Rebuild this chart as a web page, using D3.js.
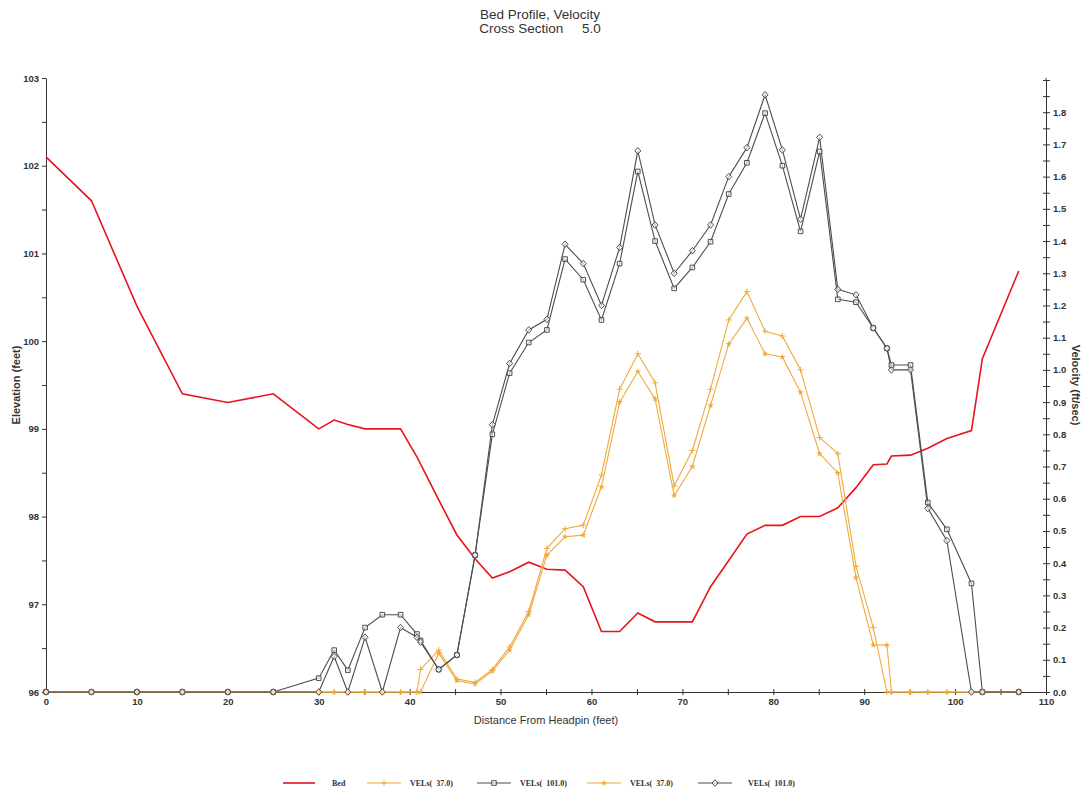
<!DOCTYPE html>
<html>
<head>
<meta charset="utf-8">
<script src="https://cdn.jsdelivr.net/npm/d3@7"></script>
<style>
  html, body { margin: 0; padding: 0; background: #fff; }
  svg { display: block; }
</style>
</head>
<body>
<svg id="chart" width="1083" height="790"></svg>
<script>
// Bed profile (elevation, feet) along the cross section
const bedX = [0, 5, 10, 15, 20, 25, 30, 31.7, 33.2, 35.1, 37, 39, 40.8, 43.2, 45.2, 47.2, 49.1, 51, 53.1, 55.1, 57.1, 59.1, 61.1, 63.1, 65.1, 67, 69.1, 71.1, 73.1, 75.1, 77.1, 79.1, 81, 83, 85.1, 87.1, 89.1, 91, 92.5, 93, 95.1, 97, 99.1, 101.8, 103, 107];
const bedElev = [102.1, 101.6, 100.4, 99.4, 99.3, 99.4, 99.0, 99.1, 99.05, 99.0, 99.0, 99.0, 98.68, 98.19, 97.79, 97.52, 97.3, 97.37, 97.48, 97.4, 97.39, 97.2, 96.69, 96.69, 96.9, 96.8, 96.8, 96.8, 97.2, 97.5, 97.8, 97.9, 97.9, 98.0, 98.0, 98.1, 98.33, 98.59, 98.6, 98.69, 98.7, 98.78, 98.89, 98.98, 99.8, 100.8];

// Velocity stations (feet from headpin)
const stations = [0, 5, 10, 15, 20, 25, 30, 31.7, 33.2, 35.1, 37, 39, 40.8, 41.2, 43.2, 45.2, 47.2, 49.1, 51, 53.1, 55.1, 57.1, 59.1, 61.1, 63.1, 65.1, 67, 69.1, 71.1, 73.1, 75.1, 77.1, 79.1, 81, 83, 85.1, 87.1, 89.1, 91, 92.5, 93, 95.1, 97, 99.1, 101.8, 103, 107];

// Velocities (ft/sec)
const vel37a = [0, 0, 0, 0, 0, 0, 0, 0, 0, 0, 0, 0, 0, 0.07, 0.13, 0.04, 0.03, 0.07, 0.14, 0.25, 0.446, 0.507, 0.518, 0.674, 0.94, 1.05, 0.96, 0.64, 0.75, 0.94, 1.155, 1.243, 1.12, 1.105, 1.0, 0.79, 0.74, 0.39, 0.2, 0, 0, 0, 0, 0, 0, 0, 0];
const vel101a = [0, 0, 0, 0, 0, 0, 0.043, 0.13, 0.068, 0.2, 0.24, 0.24, 0.18, 0.16, 0.07, 0.115, 0.425, 0.8, 0.99, 1.085, 1.124, 1.344, 1.28, 1.155, 1.33, 1.616, 1.4, 1.253, 1.318, 1.398, 1.546, 1.643, 1.797, 1.634, 1.43, 1.678, 1.219, 1.21, 1.13, 1.067, 1.015, 1.015, 0.588, 0.505, 0.337, 0, 0];
const vel37b = [0, 0, 0, 0, 0, 0, 0, 0, 0, 0, 0, 0, 0, 0, 0.12, 0.035, 0.025, 0.065, 0.13, 0.24, 0.425, 0.482, 0.487, 0.637, 0.9, 0.995, 0.91, 0.61, 0.7, 0.89, 1.08, 1.16, 1.05, 1.04, 0.93, 0.74, 0.68, 0.355, 0.146, 0.146, 0, 0, 0, 0, 0, 0, 0];
const vel101b = [0, 0, 0, 0, 0, 0, 0, 0.11, 0, 0.17, 0, 0.2, 0.17, 0.155, 0.07, 0.115, 0.425, 0.83, 1.02, 1.124, 1.157, 1.39, 1.33, 1.2, 1.38, 1.68, 1.45, 1.3, 1.37, 1.45, 1.6, 1.69, 1.854, 1.683, 1.468, 1.722, 1.25, 1.233, 1.13, 1.067, 1.0, 1.0, 0.57, 0.47, 0, 0, 0];

// Axis ticks
const xTicks = [0, 10, 20, 30, 40, 50, 60, 70, 80, 90, 100, 110];
const elevTicks = [96, 97, 98, 99, 100, 101, 102, 103];
const velTicks = [0.0, 0.1, 0.2, 0.3, 0.4, 0.5, 0.6, 0.7, 0.8, 0.9, 1.0, 1.1, 1.2, 1.3, 1.4, 1.5, 1.6, 1.7, 1.8];

const legendNames = ["Bed", "VELs(  37.0)", "VELs(  101.0)", "VELs(  37.0)", "VELs(  101.0)"];

(function drawChart() {
  const svg = d3.select("#chart");
  const pL = 46, pR = 1046, pT = 78, pB = 692;
  const sans = "Arial, 'Liberation Sans', sans-serif";
  const serif = "'Liberation Serif', 'Times New Roman', serif";

  const x = d3.scaleLinear().domain([0, 110]).range([pL, pR]);
  const yL = d3.scaleLinear().domain([96, 103]).range([pB, pT]);
  const yR = d3.scaleLinear().domain([0, 1.9]).range([pB, 80]);

  const axisColor = "#333";
  const orange = "#f2a93b";
  const gray = "#4d4d4d";
  const red = "#e8141c";

  // Title
  svg.append("text").attr("x", 540).attr("y", 19).attr("text-anchor", "middle")
    .style("font-family", sans).style("font-size", "13.5px").attr("fill", "#333").text("Bed Profile, Velocity");
  svg.append("text").attr("x", 540).attr("y", 33).attr("text-anchor", "middle")
    .style("font-family", sans).style("font-size", "13.5px").attr("fill", "#333")
    .style("white-space", "pre").text("Cross Section     5.0");

  function styleAxis(g) {
    g.selectAll("path, line").attr("stroke", axisColor).attr("stroke-width", 1);
    g.selectAll("text").style("font-size", "9.5px").style("font-weight", "bold").attr("fill", "#333")
      .style("font-family", sans);
  }

  // Left elevation axis: labelled ticks plus half-foot minor ticks
  svg.append("g").attr("transform", `translate(${pL},0)`)
    .call(d3.axisLeft(yL).tickValues(d3.range(96, 103.01, 0.5)).tickSize(4).tickSizeOuter(0)
      .tickFormat(d => elevTicks.includes(d) ? d3.format("d")(d) : ""))
    .call(styleAxis);

  // Right velocity axis
  svg.append("g").attr("transform", `translate(${pR},0)`)
    .call(d3.axisRight(yR).tickValues(d3.range(0, 1.901, 0.05)).tickSize(4).tickSizeOuter(0)
      .tickFormat(d => velTicks.some(v => Math.abs(v - d) < 1e-6) ? d3.format(".1f")(d) : ""))
    .call(styleAxis)
    .call(g => g.selectAll(".tick line").attr("x1", -3));
  svg.append("line").attr("x1", pR).attr("x2", pR).attr("y1", pT).attr("y2", 80)
    .attr("stroke", axisColor);

  // Bottom distance axis
  svg.append("g").attr("transform", `translate(0,${pB})`)
    .call(d3.axisBottom(x).tickValues(d3.range(0, 110.01, 5)).tickSize(3).tickSizeOuter(0)
      .tickFormat(d => xTicks.includes(d) ? d : ""))
    .call(styleAxis)
    .call(g => g.selectAll(".tick line").attr("y1", -3));

  // Axis titles
  svg.append("text").attr("transform", "translate(20,385) rotate(-90)").attr("text-anchor", "middle")
    .style("font-family", sans).style("font-size", "11px").style("font-weight", "bold")
    .attr("fill", "#333").text("Elevation (feet)");
  svg.append("text").attr("transform", "translate(1072,385) rotate(90)").attr("text-anchor", "middle")
    .style("font-family", sans).style("font-size", "11px").style("font-weight", "bold")
    .attr("fill", "#333").text("Velocity (ft/sec)");
  svg.append("text").attr("x", 546).attr("y", 724).attr("text-anchor", "middle")
    .style("font-family", sans).style("font-size", "11px").attr("fill", "#333")
    .text("Distance From Headpin (feet)");

  const bedLine = d3.line().x(d => x(d[0])).y(d => yL(d[1]));
  const velLine = d3.line().x(d => x(d[0])).y(d => yR(d[1]));

  svg.append("path").datum(d3.zip(bedX, bedElev)).attr("d", bedLine)
    .attr("fill", "none").attr("stroke", red).attr("stroke-width", 1.6);

  const velSeries = [
    { vals: vel37a, color: orange, marker: "plus" },
    { vals: vel101a, color: gray, marker: "square" },
    { vals: vel37b, color: orange, marker: "star" },
    { vals: vel101b, color: gray, marker: "diamond" }
  ];

  const starPath = d3.symbol(d3.symbolStar, 14);

  function drawMarker(g, type, color) {
    if (type === "plus") {
      g.append("path").attr("d", "M-3,0H3M0,-3V3").attr("fill", "none")
        .attr("stroke", color).attr("stroke-width", 1);
    } else if (type === "star") {
      g.append("path").attr("d", starPath()).attr("fill", color);
    } else if (type === "square") {
      g.append("path").attr("d", "M-2.3,-2.3H2.3V2.3H-2.3Z").attr("fill", "#fff").attr("fill-opacity", 0.6)
        .attr("stroke", color).attr("stroke-width", 1);
    } else {
      g.append("path").attr("d", "M0,-3.3L3,0L0,3.3L-3,0Z").attr("fill", "#fff").attr("fill-opacity", 0.6)
        .attr("stroke", color).attr("stroke-width", 1);
    }
  }

  velSeries.forEach(s => {
    svg.append("path").datum(d3.zip(stations, s.vals)).attr("d", velLine)
      .attr("fill", "none").attr("stroke", s.color).attr("stroke-width", 1.1);
  });
  velSeries.forEach(s => {
    d3.zip(stations, s.vals).forEach(p => {
      const g = svg.append("g").attr("transform", `translate(${x(p[0])},${yR(p[1])})`);
      drawMarker(g, s.marker, s.color);
    });
  });

  // Legend
  const legendItems = [
    { name: legendNames[0], color: red, marker: null, lx: 283, tx: 332 },
    { name: legendNames[1], color: orange, marker: "plus", lx: 367, tx: 410 },
    { name: legendNames[2], color: gray, marker: "square", lx: 477, tx: 520 },
    { name: legendNames[3], color: orange, marker: "star", lx: 587, tx: 630 },
    { name: legendNames[4], color: gray, marker: "diamond", lx: 698, tx: 748 }
  ];
  const ly = 783;
  legendItems.forEach(it => {
    const len = it.marker ? 34 : 32;
    svg.append("line").attr("x1", it.lx).attr("x2", it.lx + len).attr("y1", ly).attr("y2", ly)
      .attr("stroke", it.color).attr("stroke-width", it.marker ? 1.1 : 1.6);
    if (it.marker) {
      const g = svg.append("g").attr("transform", `translate(${it.lx + len / 2},${ly})`);
      drawMarker(g, it.marker, it.color);
    }
    svg.append("text").attr("x", it.tx).attr("y", ly + 3)
      .style("font-family", serif).style("font-size", "8px").style("font-weight", "bold")
      .attr("fill", "#333").style("white-space", "pre").text(it.name);
  });
})();
</script>
</body>
</html>
